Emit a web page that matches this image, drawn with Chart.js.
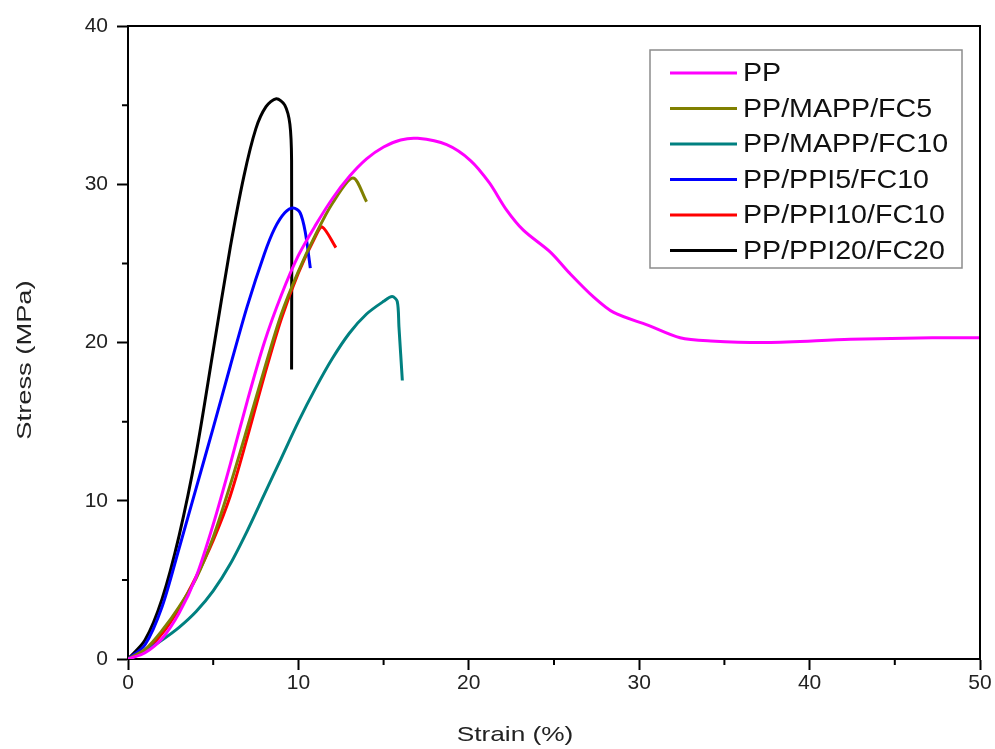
<!DOCTYPE html>
<html>
<head>
<meta charset="utf-8">
<script src="https://cdn.jsdelivr.net/npm/chart.js@4"></script>
<style>
  body { margin: 0; background: #fff; }
</style>
</head>
<body>
<canvas id="stressStrain" width="995" height="749"></canvas>
<script>
// Strain (%) / Stress (MPa)
const ppX = [0, 1, 2, 3, 4, 5, 6, 7, 8, 9, 10, 11, 12, 13, 14, 15, 16, 17, 18.7, 20.1, 21.2, 22.2, 23.2, 24.8, 25.9, 27.3, 28.5, 30.5, 32.4, 34.2, 37.5, 42.4, 47.2, 50];
const ppY = [0, 0.4, 1.3, 2.9, 5.2, 8.5, 12.3, 16.3, 20.0, 23.0, 25.5, 27.4, 29.1, 30.5, 31.6, 32.35, 32.8, 32.9, 32.5, 31.5, 30.1, 28.4, 27.1, 25.7, 24.4, 22.9, 21.9, 21.1, 20.3, 20.1, 20.0, 20.2, 20.3, 20.3];

const mapp5X = [0, 1, 2, 3, 4, 5, 6, 7, 8, 9, 10, 11, 12, 13.2, 14.0];
const mapp5Y = [0, 0.6, 1.8, 3.3, 5.1, 7.7, 11.0, 14.6, 18.3, 21.8, 24.5, 26.8, 28.8, 30.4, 28.9];

const mapp10X = [0, 1, 2, 3, 4, 5, 6, 7, 8, 9, 10, 11, 12, 13, 14, 15, 15.5, 15.8, 15.9, 16.1];
const mapp10Y = [0, 0.5, 1.2, 2.0, 3.0, 4.3, 6.0, 8.1, 10.4, 12.7, 15.0, 17.1, 19.0, 20.6, 21.8, 22.6, 22.9, 22.6, 21.0, 17.6];

const ppi5X = [0, 1, 2, 3, 4, 5, 6, 7, 8, 8.6, 9.2, 9.7, 10.1, 10.4, 10.7];
const ppi5Y = [0, 0.9, 3.3, 7.0, 10.8, 14.6, 18.5, 22.3, 25.6, 27.2, 28.2, 28.5, 28.2, 27.0, 24.7];

const ppi10X = [0, 1, 2, 3, 4, 5, 6, 7, 8, 9, 10, 11, 11.4, 12.2];
const ppi10Y = [0, 0.5, 1.6, 3.2, 5.2, 7.5, 10.3, 14.0, 17.9, 21.5, 24.4, 26.7, 27.3, 26.0];

const ppi20X = [0, 1, 2, 3, 4, 5, 6, 6.8, 7.5, 8.1, 8.7, 9.2, 9.5, 9.6, 9.6];
const ppi20Y = [0, 1.2, 3.8, 7.8, 13.0, 19.5, 26.0, 30.5, 33.5, 34.9, 35.4, 35.0, 33.8, 31.5, 18.3];

const seriesNames = ['PP', 'PP/MAPP/FC5', 'PP/MAPP/FC10', 'PP/PPI5/FC10', 'PP/PPI10/FC10', 'PP/PPI20/FC20'];
const seriesColors = ['#ff00ff', '#808000', '#008080', '#0000ff', '#ff0000', '#000000'];

const FONT = "'Liberation Sans', Arial, sans-serif";

function toPoints(xs, ys) {
    return xs.map((x, i) => ({ x: x, y: ys[i] }));
}

const allSeries = [
    toPoints(ppX, ppY),
    toPoints(mapp5X, mapp5Y),
    toPoints(mapp10X, mapp10Y),
    toPoints(ppi5X, ppi5Y),
    toPoints(ppi10X, ppi10Y),
    toPoints(ppi20X, ppi20Y)
];

// frame, minor ticks, legend box and axis titles
const decorPlugin = {
    id: 'decor',
    afterDraw(chart) {
        const ctx = chart.ctx;
        const area = chart.chartArea;
        const xs = chart.scales.x;
        const ys = chart.scales.y;
        ctx.save();

        // top and right sides of the box
        ctx.strokeStyle = '#000';
        ctx.lineWidth = 2;
        ctx.beginPath();
        ctx.moveTo(area.left, area.top);
        ctx.lineTo(area.right, area.top);
        ctx.lineTo(area.right, area.bottom);
        ctx.stroke();

        // minor ticks
        ctx.beginPath();
        xs.ticks.forEach(t => {
            if (t.value % 10 !== 0) {
                const px = xs.getPixelForValue(t.value);
                ctx.moveTo(px, area.bottom);
                ctx.lineTo(px, area.bottom + 6);
            }
        });
        ys.ticks.forEach(t => {
            if (t.value % 10 !== 0) {
                const py = ys.getPixelForValue(t.value);
                ctx.moveTo(area.left, py);
                ctx.lineTo(area.left - 6, py);
            }
        });
        ctx.stroke();

        // legend
        ctx.strokeStyle = '#8c8c8c';
        ctx.lineWidth = 1.5;
        ctx.strokeRect(650, 50, 312, 218);
        ctx.font = '26px ' + FONT;
        ctx.textBaseline = 'middle';
        ctx.textAlign = 'left';
        chart.data.datasets.forEach((ds, i) => {
            const y = 73 + i * 35.5;
            ctx.strokeStyle = ds.borderColor;
            ctx.lineWidth = 3;
            ctx.beginPath();
            ctx.moveTo(670, y);
            ctx.lineTo(737, y);
            ctx.stroke();
            ctx.fillStyle = '#111';
            ctx.save();
            ctx.translate(743, y + 1);
            ctx.scale(1.1, 1);
            ctx.fillText(ds.label, 0, 0);
            ctx.restore();
        });

        // axis titles
        ctx.fillStyle = '#222';
        ctx.font = '21px ' + FONT;
        ctx.textAlign = 'center';
        ctx.save();
        ctx.translate(515, 735);
        ctx.scale(1.25, 1);
        ctx.fillText('Strain (%)', 0, 0);
        ctx.restore();
        ctx.save();
        ctx.translate(25, 360);
        ctx.rotate(-Math.PI / 2);
        ctx.scale(1.3, 1);
        ctx.fillText('Stress (MPa)', 0, 0);
        ctx.restore();

        ctx.restore();
    }
};

const tickGrid = {
    drawOnChartArea: false,
    drawTicks: true,
    tickLength: 11,
    tickWidth: 2,
    tickColor: c => (c.tick && c.tick.value % 10 === 0) ? '#000' : 'rgba(0,0,0,0)'
};

new Chart(document.getElementById('stressStrain'), {
    type: 'scatter',
    data: {
        datasets: allSeries.map((pts, i) => ({
            label: seriesNames[i],
            data: pts,
            showLine: true,
            borderColor: seriesColors[i],
            backgroundColor: seriesColors[i],
            borderWidth: 3,
            pointRadius: 0,
            tension: 0.3
        }))
    },
    options: {
        responsive: false,
        animation: false,
        layout: { padding: { left: 0, right: 15, top: 26, bottom: 0 } },
        plugins: {
            legend: { display: false },
            tooltip: { enabled: false }
        },
        scales: {
            x: {
                type: 'linear',
                min: 0,
                max: 50,
                afterFit: s => { s.height = 90; },
                border: { display: true, color: '#000', width: 2 },
                grid: tickGrid,
                ticks: {
                    stepSize: 5,
                    autoSkip: false,
                    maxRotation: 0,
                    padding: 1,
                    color: '#222',
                    font: { family: FONT, size: 21 },
                    callback: v => (v % 10 === 0 ? v : '')
                }
            },
            y: {
                type: 'linear',
                min: 0,
                max: 40,
                afterFit: s => { s.width = 128; },
                border: { display: true, color: '#000', width: 2 },
                grid: tickGrid,
                ticks: {
                    stepSize: 5,
                    autoSkip: false,
                    padding: 9,
                    color: '#222',
                    font: { family: FONT, size: 21 },
                    callback: v => (v % 10 === 0 ? v : '')
                }
            }
        }
    },
    plugins: [decorPlugin]
});
</script>
</body>
</html>
